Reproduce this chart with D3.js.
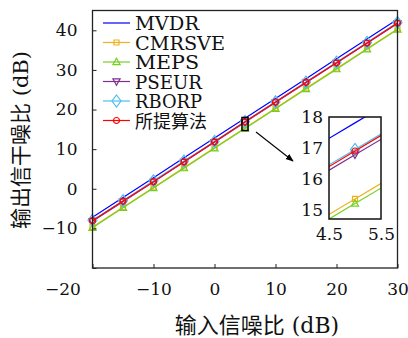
<!DOCTYPE html>
<html><head><meta charset="utf-8">
<script src="https://cdn.jsdelivr.net/npm/d3@7/dist/d3.min.js"></script>
<style>body{margin:0;background:#fff}</style>
</head><body><svg id="c" width="408" height="338"></svg>
<script>
const snr = [-20,-15,-10,-5,0,5,10,15,20,25,30];
const mvdr   = [-7.2,-2.2,2.8,7.8,12.8,17.81,22.8,27.8,32.8,37.8,42.8];
const cmrsve = [-9.65,-4.65,0.35,5.35,10.35,15.35,20.35,25.35,30.35,35.35,40.35];
const meps   = [-9.85,-4.8,0.2,5.2,10.2,15.2,20.2,25.2,30.2,35.2,40.2];
const pseur  = [-8.2,-3.25,1.75,6.75,11.75,16.78,21.75,26.75,31.75,36.75,41.75];
const rborp  = [-7.95,-3.0,2.0,7.0,11.95,16.95,21.95,26.95,31.95,36.95,41.95];
const prop   = [-8.05,-3.1,1.8,6.8,11.85,16.9,21.9,26.9,31.8,36.8,41.85];
const seriesNames = ["MVDR","CMRSVE","MEPS","PSEUR","RBORP","所提算法"];
const xTicks = [-20,-10,0,10,20,30];
const yTicks = [-20,-10,0,10,20,30,40];
const insetXTicks = [4.5,5.5];
const insetYTicks = [15,16,17,18];
const xLabel = "输入信噪比 (dB)";
const yLabel = "输出信干噪比 (dB)";

const series = [
  {name:seriesNames[0], vals:mvdr,   color:"#0000ff", marker:null},
  {name:seriesNames[1], vals:cmrsve, color:"#EDB120", marker:"square"},
  {name:seriesNames[2], vals:meps,   color:"#77D020", marker:"triup"},
  {name:seriesNames[3], vals:pseur,  color:"#7E2F8E", marker:"tridown"},
  {name:seriesNames[4], vals:rborp,  color:"#4DBEEE", marker:"diamond"},
  {name:seriesNames[5], vals:prop,   color:"#ff0000", marker:"circle"}
];

const svg = d3.select("#c");
const serif = "'DejaVu Serif','Liberation Serif',serif";
const cjk = "'DejaVu Serif','Noto Sans CJK SC',serif";

const L=92.5, R=397.5, T=10.5, B=268;
const x = d3.scaleLinear().domain([-20,30]).range([L,R]);
const y = d3.scaleLinear().domain([-20,45]).range([B,T]);

function markerPath(type){
  switch(type){
    case "square": return "M-2.5,-2.5H2.5V2.5H-2.5Z";
    case "triup": return "M0,-3.8L3.6,2.6H-3.6Z";
    case "tridown": return "M0,3.8L3.6,-2.6H-3.6Z";
    case "diamond": return "M0,-6L4.5,0L0,6L-4.5,0Z";
    case "circle": return d3.arc()({innerRadius:0,outerRadius:3,startAngle:0,endAngle:2*Math.PI});
  }
  return null;
}

function drawSeries(g, xs, ys, clipId){
  const line = d3.line().x((d,i)=>xs(snr[i])).y(d=>ys(d));
  series.forEach(s=>{
    const gg = g.append("g");
    if(clipId) gg.attr("clip-path","url(#"+clipId+")");
    gg.append("path").attr("d",line(s.vals)).attr("fill","none")
      .attr("stroke",s.color).attr("stroke-width",1.2);
    if(s.marker){
      const mg = g.append("g");
      s.vals.forEach((v,i)=>{
        const px = xs(snr[i]), py = ys(v);
        if(clipId){
          const [x0,x1]=xs.range(), [y1,y0]=ys.range();
          if(px<x0||px>x1||py<y0||py>y1) return;
        }
        mg.append("path").attr("d",markerPath(s.marker))
          .attr("transform",`translate(${px},${py})`)
          .attr("fill","none").attr("stroke",s.color).attr("stroke-width",1.2);
      });
    }
  });
}

const fmt = d=>d<0?"−"+Math.abs(d):String(d);

// main plot
const main = svg.append("g");
drawSeries(main, x, y, null);

// frame
svg.append("rect").attr("x",L).attr("y",T).attr("width",R-L).attr("height",B-T)
  .attr("fill","none").attr("stroke","#222").attr("stroke-width",1.3);

// axes
const xAxis = svg.append("g").attr("transform",`translate(0,${B})`)
  .call(d3.axisBottom(x).tickValues(xTicks).tickSizeInner(-4).tickSizeOuter(0).tickPadding(15)
    .tickFormat(fmt));
xAxis.select(".domain").remove();
xAxis.attr("font-family",null).attr("font-size",null);
xAxis.selectAll("text").attr("font-family",serif).attr("font-size",17).attr("fill","#111");
xAxis.selectAll(".tick").filter(d=>d===-20).select("text").attr("dx",-30);
xAxis.selectAll("line").attr("stroke","#222");

const yAxis = svg.append("g").attr("transform",`translate(${L},0)`)
  .call(d3.axisLeft(y).tickValues(yTicks).tickSizeInner(-4).tickSizeOuter(0).tickPadding(15)
    .tickFormat(fmt));
yAxis.select(".domain").remove();
yAxis.attr("font-family",null).attr("font-size",null);
yAxis.selectAll("text").attr("font-family",serif).attr("font-size",17).attr("fill","#111");
yAxis.selectAll(".tick").filter(d=>d===-20).select("text").remove();
yAxis.selectAll("line").attr("stroke","#222");

// zoom rect
svg.append("rect").attr("x",x(4.5)).attr("y",y(18)).attr("width",x(5.5)-x(4.5)).attr("height",y(14.7)-y(18))
  .attr("fill","none").attr("stroke","#000").attr("stroke-width",1.5);

// arrow
svg.append("defs").append("marker").attr("id","ah").attr("viewBox","0 0 10 10")
  .attr("refX",9).attr("refY",5).attr("markerWidth",8).attr("markerHeight",8)
  .attr("orient","auto").attr("markerUnits","userSpaceOnUse")
  .append("path").attr("d","M0,1L10,5L0,9Z").attr("fill","#000");
svg.append("line").attr("x1",256).attr("y1",132).attr("x2",293).attr("y2",161)
  .attr("stroke","#000").attr("stroke-width",1.1).attr("marker-end","url(#ah)");

// inset
const iL=329, iR=381, iT=117, iB=219;
const xi = d3.scaleLinear().domain([4.5,5.5]).range([iL,iR]);
const yi = d3.scaleLinear().domain([14.7,18]).range([iB,iT]);
svg.append("rect").attr("x",iL).attr("y",iT).attr("width",iR-iL).attr("height",iB-iT).attr("fill","#fff");
svg.select("defs").append("clipPath").attr("id","ic").append("rect")
  .attr("x",iL).attr("y",iT).attr("width",iR-iL).attr("height",iB-iT);
const inset = svg.append("g");
drawSeries(inset, xi, yi, "ic");
svg.append("rect").attr("x",iL).attr("y",iT).attr("width",iR-iL).attr("height",iB-iT)
  .attr("fill","none").attr("stroke","#111").attr("stroke-width",1.5);
const ixa = svg.append("g").attr("transform",`translate(0,${iB})`)
  .call(d3.axisBottom(xi).tickValues(insetXTicks).tickSize(0).tickPadding(9).tickFormat(d=>String(d)));
ixa.select(".domain").remove();
ixa.selectAll("text").attr("font-family",serif).attr("font-size",17).attr("fill","#111");
const iya = svg.append("g").attr("transform",`translate(${iL},0)`)
  .call(d3.axisLeft(yi).tickValues(insetYTicks).tickSize(0).tickPadding(6).tickFormat(d=>String(d)));
iya.select(".domain").remove();
iya.selectAll("text").attr("font-family",serif).attr("font-size",17).attr("fill","#111");

// legend
const leg = svg.append("g");
series.forEach((s,i)=>{
  const yy = 23 + i*19.5;
  leg.append("line").attr("x1",103).attr("x2",130).attr("y1",yy).attr("y2",yy)
    .attr("stroke",s.color).attr("stroke-width",1.2);
  if(s.marker) leg.append("path").attr("d",markerPath(s.marker)).attr("transform",`translate(116.5,${yy})`)
    .attr("fill","none").attr("stroke",s.color).attr("stroke-width",1.2);
  leg.append("text").attr("x",135).attr("y",yy+7).text(s.name)
    .attr("font-family",i===5?cjk:serif).attr("font-size",i===5?18:18).attr("fill","#111")
    .attr("textLength",i===5?null:[64,90,64,67,67][i]).attr("lengthAdjust","spacingAndGlyphs");
});

// axis labels
svg.append("text").attr("x",257).attr("y",333).attr("text-anchor","middle")
  .attr("font-family",cjk).attr("font-size",22).attr("fill","#111").text(xLabel);
svg.append("text").attr("transform","translate(28,140) rotate(-90)").attr("text-anchor","middle")
  .attr("font-family",cjk).attr("font-size",21).attr("fill","#111").text(yLabel);
</script></body></html>
